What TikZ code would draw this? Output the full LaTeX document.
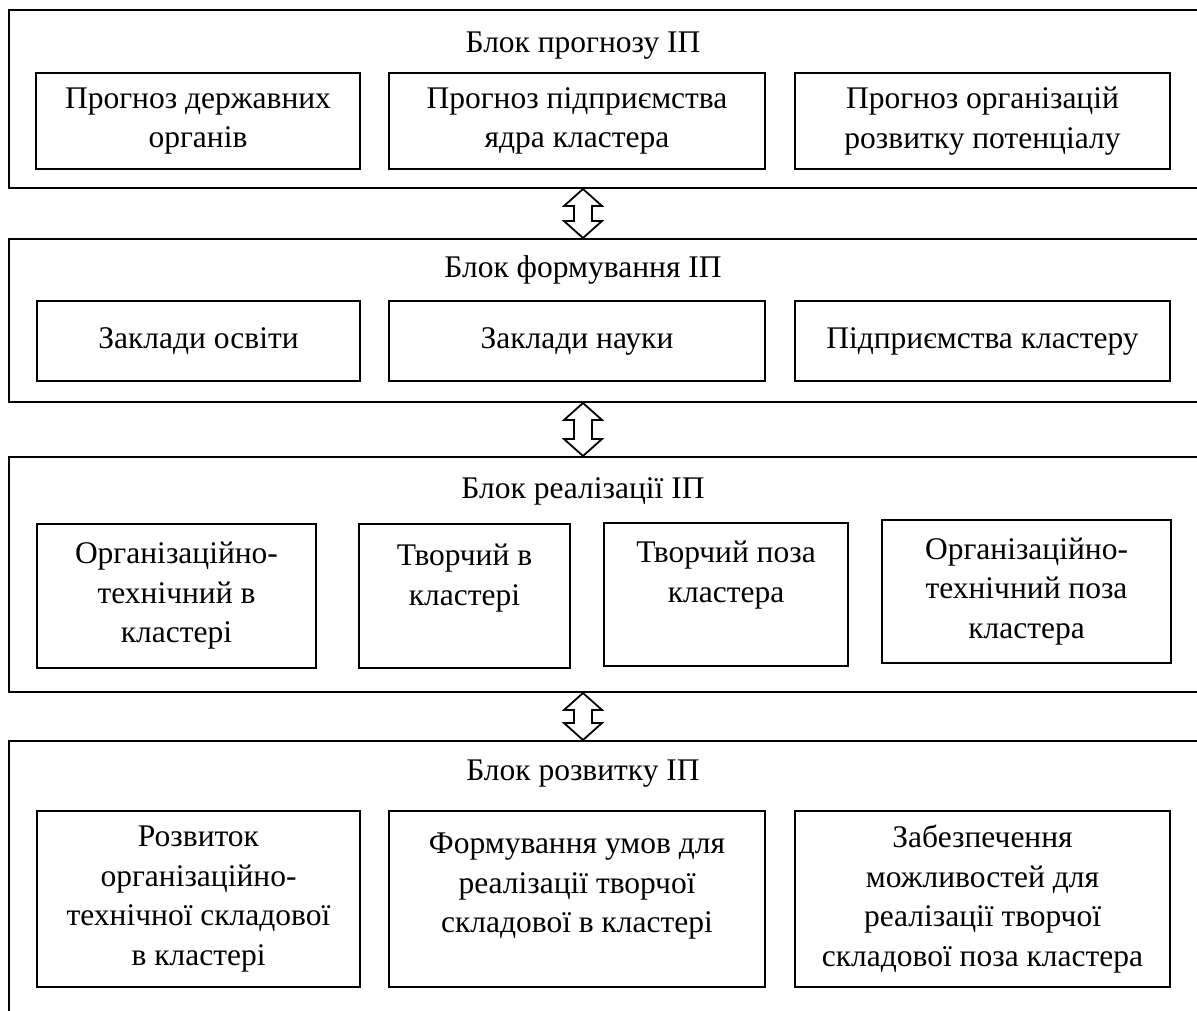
\documentclass[tikz,border=0pt]{standalone}
\usepackage{fontspec}
\setmainfont{Liberation Serif}
\usetikzlibrary{calc}
\newcommand\dblarr[2]{%
  \draw[dbl] (#1) -- ($(#1)+(19,17)$) -- ($(#1)+(9,17)$) -- ($(#2)+(9,-17)$) -- ($(#2)+(19,-17)$) -- (#2)
    -- ($(#2)+(-19,-17)$) -- ($(#2)+(-9,-17)$) -- ($(#1)+(-9,17)$) -- ($(#1)+(-19,17)$) -- cycle;}
\begin{document}
\begin{tikzpicture}[x=1pt,y=-1pt,
  blk/.style={draw, line width=2pt, rectangle, inner sep=0pt},
  ibox/.style={draw, line width=2pt, rectangle, inner sep=0pt, align=center, font=\fontsize{31.5}{39.5}\selectfont},
  txt/.style={inner sep=0pt, align=center, font=\fontsize{31.5}{39.5}\selectfont},
  dbl/.style={draw, line width=1.8pt, fill=white, line join=miter}]
\useasboundingbox (0,0) rectangle (1197,1010);
\clip (0,0) rectangle (1197,1010);
% outer blocks
\node[blk, minimum width=1211pt, minimum height=178pt] (blk1) at (614.5,99) {};
\node[blk, minimum width=1211pt, minimum height=163pt] (blk2) at (614.5,320.5) {};
\node[blk, minimum width=1211pt, minimum height=235pt] (blk3) at (614.5,574.5) {};
\node[blk, minimum width=1211pt, minimum height=299pt] (blk4) at (614.5,890.5) {};
% titles
\node[txt] (ttl1) at (583,46) {Блок прогнозу ІП};
\node[txt] (ttl2) at (583,270) {Блок формування ІП};
\node[txt] (ttl3) at (583,491) {Блок реалізації ІП};
\node[txt] (ttl4) at (583,774) {Блок розвитку ІП};
% block 1
\node[ibox, minimum width=324pt, minimum height=96pt] (b11) at (198,121) {Прогноз державних\\органів};
\node[ibox, minimum width=376pt, minimum height=96pt] (b12) at (577,121) {Прогноз підприємства\\ядра кластера};
\node[ibox, minimum width=375pt, minimum height=96pt] (b13) at (982.5,121) {Прогноз організацій\\розвитку потенціалу};
% block 2
\node[ibox, minimum width=323pt, minimum height=80pt] (b21) at (198.5,341) {Заклади освіти};
\node[ibox, minimum width=376pt, minimum height=80pt] (b22) at (577,341) {Заклади науки};
\node[ibox, minimum width=375pt, minimum height=80pt] (b23) at (982.5,341) {Підприємства кластеру};
% block 3
\node[ibox, minimum width=279pt, minimum height=144pt] (b31) at (176.5,596) {Організаційно-\\технічний в\\кластері};
\node[ibox, minimum width=211pt, minimum height=144pt] (b32) at (464.5,596) {};
\node[txt, anchor=north] (t32) at ([yshift=-21pt]b32.north) {Творчий в\\кластері};
\node[ibox, minimum width=244pt, minimum height=143pt] (b33) at (726,594.5) {};
\node[txt, anchor=north] (t33) at ([yshift=-19pt]b33.north) {Творчий поза\\кластера};
\node[ibox, minimum width=289pt, minimum height=143pt] (b34) at (1026.5,591.5) {Організаційно-\\технічний поза\\кластера};
% block 4
\node[ibox, minimum width=323pt, minimum height=176pt] (b41) at (198.5,899) {Розвиток\\організаційно-\\технічної складової\\в кластері};
\node[ibox, minimum width=376pt, minimum height=176pt] (b42) at (577,899) {};
\node[txt, anchor=north] (t42) at ([yshift=-23pt]b42.north) {Формування умов для\\реалізації творчої\\складової в кластері};
\node[ibox, minimum width=375pt, minimum height=176pt] (b43) at (982.5,899) {Забезпечення\\можливостей для\\реалізації творчої\\складової поза кластера};
% arrows
\coordinate (ax) at (583,0);
\coordinate (a1t) at (blk1.south -| ax);
\coordinate (a1b) at (blk2.north -| ax);
\coordinate (a2t) at (blk2.south -| ax);
\coordinate (a2b) at (blk3.north -| ax);
\coordinate (a3t) at (blk3.south -| ax);
\coordinate (a3b) at (blk4.north -| ax);
\dblarr{a1t}{a1b}
\dblarr{a2t}{a2b}
\dblarr{a3t}{a3b}
\end{tikzpicture}
\end{document}
